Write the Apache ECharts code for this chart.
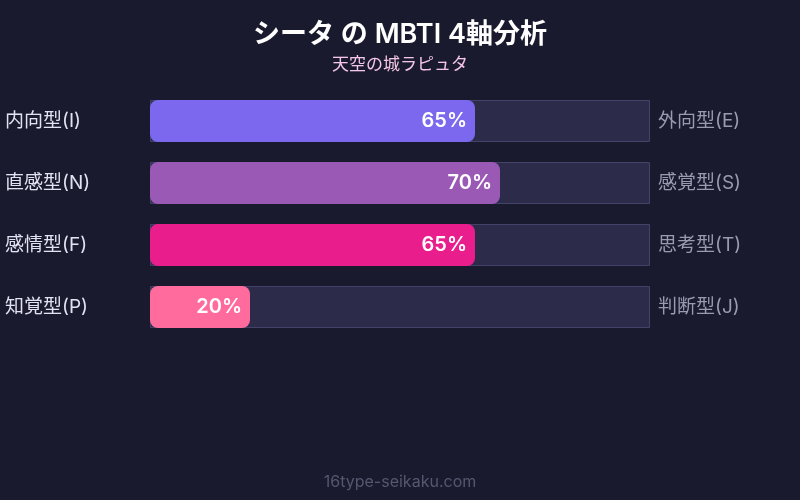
<!DOCTYPE html>
<html>
<head>
    <meta charset="utf-8">
    <title>シータ の MBTI 4軸分析</title>
    <script src="https://cdn.jsdelivr.net/npm/echarts@6/dist/echarts.min.js"></script>
    <style>
        html, body { margin: 0; padding: 0; background: #1a1a2e; }
    </style>
</head>
<body>
    <div id="mbtiChart" style="width: 800px;height:500px;"></div>
    <script type="text/javascript">
        // 軸ラベル（左・右）とスコア
        var leftLabels = ['内向型(I)', '直感型(N)', '感情型(F)', '知覚型(P)'];
        var rightLabels = ['外向型(E)', '感覚型(S)', '思考型(T)', '判断型(J)'];
        var scores = [65, 70, 65, 20];
        var barColors = ['#7b68ee', '#9b59b6', '#e91e8c', '#ff6b9d'];
        var trackValues = [100, 100, 100, 100];

        var myChart = echarts.init(document.getElementById('mbtiChart'));
        var font = 'Inter, "Noto Sans CJK JP", sans-serif';

        var option = {
            backgroundColor: '#1a1a2e',
            animation: false,
            title: [
                {
                    text: 'シータ の MBTI 4軸分析',
                    subtext: '天空の城ラピュタ',
                    left: 'center',
                    top: 16,
                    itemGap: 8,
                    textStyle: { color: '#ffffff', fontSize: 27, fontWeight: 600, fontFamily: font },
                    subtextStyle: { color: '#f5c6e8', fontSize: 17, fontFamily: font }
                },
                {
                    text: '16type-seikaku.com',
                    left: 'center',
                    bottom: 5,
                    textStyle: { color: '#56566f', fontSize: 16, fontWeight: 'normal', fontFamily: font }
                }
            ],
            grid: {
                left: 150,
                width: 500,
                top: 90,
                height: 248
            },
            xAxis: {
                type: 'value',
                min: 0,
                max: 100,
                show: false
            },
            yAxis: [
                {
                    type: 'category',
                    data: leftLabels,
                    inverse: true,
                    position: 'left',
                    axisLine: { show: false },
                    axisTick: { show: false },
                    axisLabel: {
                        align: 'left',
                        margin: 145,
                        color: '#e2e2f2',
                        fontSize: 19,
                        fontFamily: font,
                        padding: [0, 0, 4, 0]
                    }
                },
                {
                    type: 'category',
                    data: rightLabels,
                    inverse: true,
                    position: 'right',
                    axisLine: { show: false },
                    axisTick: { show: false },
                    axisLabel: {
                        align: 'left',
                        margin: 8,
                        color: '#9a9ab0',
                        fontSize: 19,
                        fontFamily: font,
                        padding: [0, 0, 4, 0]
                    }
                }
            ],
            series: [
                {
                    type: 'bar',
                    data: trackValues,
                    barWidth: 42,
                    silent: true,
                    itemStyle: {
                        color: '#2d2b4a',
                        borderColor: '#45426a',
                        borderWidth: 1
                    },
                    z: 1
                },
                {
                    type: 'bar',
                    data: scores.map(function (v, i) {
                        return { value: v, itemStyle: { color: barColors[i] } };
                    }),
                    barWidth: 42,
                    barGap: '-100%',
                    itemStyle: { borderRadius: 8 },
                    label: {
                        show: true,
                        position: 'insideRight',
                        distance: 8,
                        formatter: '{c}%',
                        color: '#ffffff',
                        fontSize: 20,
                        fontWeight: 600,
                        fontFamily: font
                    },
                    z: 2
                }
            ]
        };

        myChart.setOption(option);
    </script>
</body>
</html>
